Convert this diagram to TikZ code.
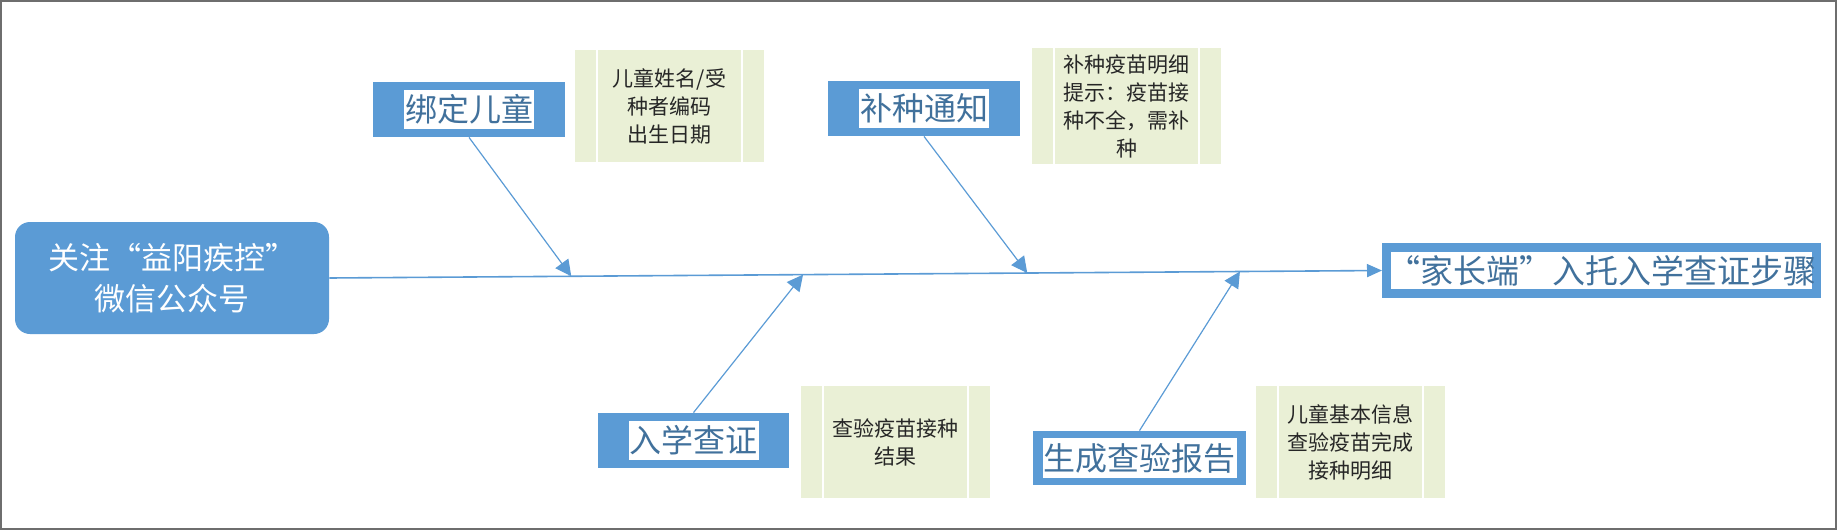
\documentclass[tikz,border=0pt]{standalone}
\usepackage{fontspec}
\usepackage{xcolor}
\usepackage{tikz}
\usetikzlibrary{arrows.meta,calc}
\setmainfont{Noto Sans CJK SC}
\definecolor{fishblue}{RGB}{91,155,213}
\definecolor{labelblue}{RGB}{65,113,156}
\definecolor{notegreen}{RGB}{234,240,214}
\definecolor{framegray}{RGB}{110,110,110}

\begin{document}
\begin{tikzpicture}[
    x=0.5pt, y=-0.5pt,
    start/.style={rectangle, rounded corners=7.5pt, fill=fishblue, text=white, minimum width=157pt, minimum height=56pt, align=center, font=\fontsize{15.5}{20.5}\selectfont},
    goal/.style={rectangle, draw=fishblue, line width=4.5pt, fill=white, text=labelblue, minimum width=215pt, minimum height=23pt, inner sep=0pt, font=\fontsize{16.5}{20}\selectfont},
    cause/.style={rectangle, fill=fishblue, minimum height=27.5pt, inner sep=0pt},
    causetext/.style={rectangle, fill=white, text=labelblue, inner xsep=0.5pt, inner ysep=2.5pt, font=\fontsize{16}{19}\selectfont},
    note/.style={rectangle, fill=notegreen, text=black!85, minimum width=94.5pt, minimum height=56pt, align=center, font=\fontsize{10.5}{14}\selectfont,
        path picture={
            \draw[white, line width=1pt] ([xshift=11pt]path picture bounding box.north west) -- ([xshift=11pt]path picture bounding box.south west);
            \draw[white, line width=1pt] ([xshift=-11pt]path picture bounding box.north east) -- ([xshift=-11pt]path picture bounding box.south east);
        }},
    spine/.style={draw=fishblue, line width=0.8pt, -{Triangle[length=7.5pt,width=6.5pt]}},
    bone/.style={draw=fishblue, line width=0.6pt, -{Triangle[length=8pt,width=8pt]}}
]

\useasboundingbox (0,0) rectangle (1837,530);
\draw[framegray, line width=1pt] (1,1) rectangle (1836,529);

% Head and tail of the fish
\node[start] (follow) at (172,278) {关注“益阳疾控”\\微信公众号};
\node[goal] (steps) at (1601.5,270.5) {“家长端”入托入学查证步骤};
\draw[spine] (follow.east) -- (steps.west);

% Joints on the spine
\coordinate (j1) at ($(follow.east)!0.2298!(steps.west)$);
\coordinate (j2) at ($(follow.east)!0.663!(steps.west)$);
\coordinate (j3) at ($(follow.east)!0.450!(steps.west)$);
\coordinate (j4) at ($(follow.east)!0.865!(steps.west)$);

% Upper bones
\node[cause, minimum width=96pt] (bind) at (469,109.5) {};
\node[causetext] (bindtext) at (bind) {绑定儿童};
\node[note] (bindnote) at (669.5,106) {儿童姓名/受\\种者编码\\出生日期};
\draw[bone] (bind.south) -- (j1);

\node[cause, minimum width=96pt] (notify) at (924,108.5) {};
\node[causetext] (notifytext) at (notify) {补种通知};
\node[note] (notifynote) at (1126.5,106) {补种疫苗明细\\提示：疫苗接\\种不全，需补\\种};
\draw[bone] (notify.south) -- (j2);

% Lower bones
\node[cause, minimum width=95.5pt] (check) at (693.5,440.5) {};
\node[causetext] (checktext) at (check) {入学查证};
\node[note] (checknote) at (895.5,442) {查验疫苗接种\\结果};
\draw[bone] (check.north) -- (j3);

\node[cause, minimum width=106.5pt, minimum height=27pt] (report) at (1139.5,458) {};
\node[causetext] (reporttext) at (report) {生成查验报告};
\node[note] (reportnote) at (1350.5,442) {儿童基本信息\\查验疫苗完成\\接种明细};
\draw[bone] (report.north) -- (j4);

\end{tikzpicture}
\end{document}
